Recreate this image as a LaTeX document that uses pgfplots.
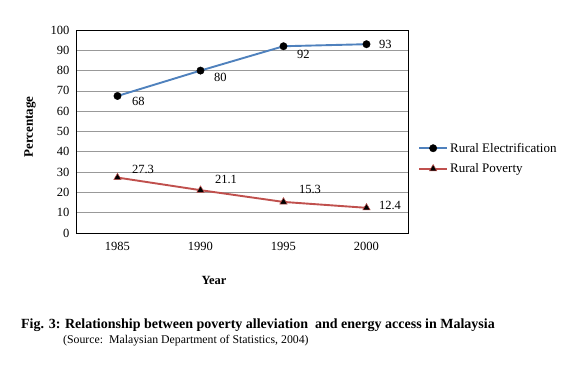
\documentclass[border=0pt]{standalone}
\usepackage{pgfplots}
\pgfplotsset{compat=1.18}
\usepackage{fontspec}
\setmainfont{Liberation Serif}
\definecolor{eblue}{HTML}{4F81BD}
\definecolor{ered}{HTML}{C0504D}
\begin{document}
\begin{tikzpicture}
\useasboundingbox (-76pt,-138pt) rectangle (511pt,233pt);
\begin{axis}[
  name=ax,
  at={(0,0)}, anchor=south west,
  scale only axis,
  width=332pt, height=203pt,
  xmin=-0.5, xmax=3.5,
  ymin=0, ymax=100,
  xtick={0,1,2,3},
  xticklabels={1985,1990,1995,2000},
  ytick={0,10,...,100},
  major tick length=0pt,
  ymajorgrids,
  grid style={gray!80, line width=0.6pt},
  axis line style={black, line width=0.7pt},
  font=\fontsize{12.5}{14}\selectfont,
  /pgf/number format/assume math mode=true,
  xticklabel style={yshift=-6pt},
  yticklabel style={xshift=-3pt},
  clip=false,
  legend style={at={(rel axis cs:1,0.367)}, anchor=west, xshift=10pt, draw=none, fill=none,
    font=\fontsize{13}{15}\selectfont, row sep=6pt, inner sep=0pt},
  legend cell align=left,
  legend image code/.code={
    \draw[#1] (0pt,0pt) -- (28pt,0pt);
    \draw[#1,only marks] plot coordinates {(14pt,0pt)};
  },
]
\addplot[eblue, line width=1.9pt, mark=*, mark size=3.7pt, mark options={fill=black, draw=black, line width=0.4pt}]
  coordinates {(0,67.5) (1,80) (2,92) (3,93)};
\addlegendentry{Rural Electrification}
\addplot[ered, line width=1.9pt, mark=triangle*, mark size=4.3pt, mark options={fill=black, draw=ered, line width=0.5pt}]
  coordinates {(0,27.3) (1,21.1) (2,15.3) (3,12.4)};
\addlegendentry{Rural Poverty}
\node[anchor=west, xshift=11pt, yshift=-5pt] at (axis cs:0,67.5) {68};
\node[anchor=west, xshift=10pt, yshift=-7pt] at (axis cs:1,80) {80};
\node[anchor=west, xshift=10pt, yshift=-8pt] at (axis cs:2,92) {92};
\node[anchor=west, xshift=9pt, yshift=0pt] at (axis cs:3,93) {93};
\node[anchor=west, xshift=11pt, yshift=8pt] at (axis cs:0,27.3) {27.3};
\node[anchor=west, xshift=11pt, yshift=11pt] at (axis cs:1,21.1) {21.1};
\node[anchor=west, xshift=12pt, yshift=12pt] at (axis cs:2,15.3) {15.3};
\node[anchor=west, xshift=9pt, yshift=2pt] at (axis cs:3,12.4) {12.4};
\end{axis}
\node[rotate=90, font=\fontsize{13}{15}\selectfont\bfseries] at (-46pt,106pt) {Percentage};
\node[font=\fontsize{12.5}{14}\selectfont\bfseries] at (138pt,-47pt) {Year};
\node[font=\fontsize{14}{16}\selectfont\bfseries] at (182pt,-92pt) {Fig. 3: Relationship between poverty alleviation\ \ and energy access in Malaysia};
\node[anchor=west, inner sep=0pt, font=\fontsize{11.8}{13}\selectfont] at (-13pt,-108pt) {(Source:\ \ Malaysian Department of Statistics, 2004)};
\end{tikzpicture}
\end{document}
